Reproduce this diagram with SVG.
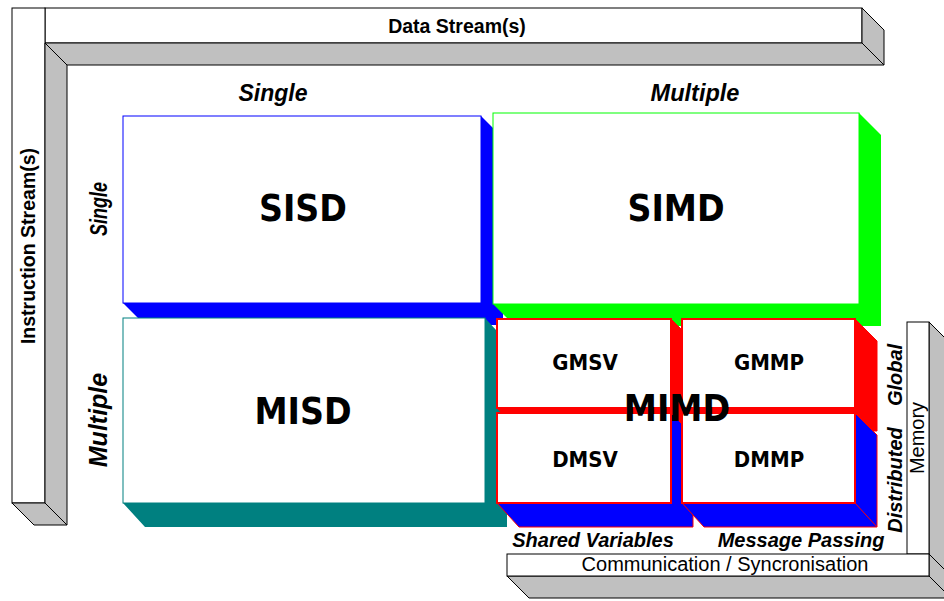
<svg xmlns="http://www.w3.org/2000/svg" width="944" height="601" viewBox="0 0 944 601">
<style>
.bar{fill:#fff;stroke:#000;stroke-width:1}
.barside{fill:#c0c0c0;stroke:#000;stroke-width:1;stroke-linejoin:miter}
.ax{font-family:"Liberation Sans",Arial,sans-serif;font-weight:bold;font-size:19.5px;fill:#000;text-anchor:middle}
.lab{font-family:"Liberation Sans",Arial,sans-serif;font-weight:bold;font-style:italic;font-size:20px;fill:#000;text-anchor:middle}
.reg{font-family:"Liberation Sans",Arial,sans-serif;font-size:20px;fill:#000;text-anchor:middle}
.big{font-family:"DejaVu Sans Condensed","DejaVu Sans",sans-serif;font-weight:bold;font-size:37px;fill:#000;text-anchor:middle}
.mid{font-family:"DejaVu Sans Condensed","DejaVu Sans",sans-serif;font-weight:bold;font-size:22px;fill:#000;text-anchor:middle}
.front{fill:#fff}
</style>
<rect width="944" height="601" fill="#fff"/>

<g id="data-stream">
  <rect class="bar" x="45" y="8" width="817" height="35"/>
  <polygon class="barside" points="45,43 862,43 884,65 67,65"/>
  <polygon class="barside" points="862,8 884,30 884,65 862,43"/>
  <text class="ax" x="457" y="33">Data Stream(s)</text>
</g>

<g id="instruction-stream">
  <rect class="bar" x="12" y="8" width="33" height="495"/>
  <polygon class="barside" points="45,43 67,65 67,525 45,503"/>
  <polygon class="barside" points="12,503 45,503 67,525 34,525"/>
  <text class="ax" transform="translate(35,246) rotate(-90)">Instruction Stream(s)</text>
</g>

<g id="axis-labels">
  <text class="lab" x="273" y="101" style="font-size:23px">Single</text>
  <text class="lab" x="695" y="101" style="font-size:23.5px">Multiple</text>
  <text class="lab" transform="translate(107,209) rotate(-90)" style="font-size:24px" textLength="54" lengthAdjust="spacingAndGlyphs">Single</text>
  <text class="lab" transform="translate(107,420) rotate(-90)" style="font-size:25px">Multiple</text>
</g>

<g id="sisd">
  <polygon fill="#0000ff" points="481,116 503,138 503,325 145,325 123,303 481,303"/>
  <rect class="front" x="123" y="116" width="358" height="187" stroke="#0000ff" stroke-width="1"/>
  <text class="big" x="303" y="221">SISD</text>
</g>

<g id="simd">
  <polygon fill="#00ff00" points="859,113 881,135 881,326 515,326 493,304 859,304"/>
  <rect class="front" x="493" y="113" width="366" height="191" stroke="#00ff00" stroke-width="1"/>
  <text class="big" x="676" y="221">SIMD</text>
</g>

<g id="misd">
  <polygon fill="#008080" points="485,318 507,342 507,527 145,527 123,503 485,503"/>
  <rect class="front" x="123" y="318" width="362" height="185" stroke="#008080" stroke-width="1"/>
  <text class="big" x="303" y="424">MISD</text>
</g>

<g id="mimd">
  <g id="gmsv">
    <polygon fill="#ff0000" stroke="#ff0000" stroke-width="1" points="671,319 693,341 693,431 519,431 497,408 671,408"/>
    <rect class="front" x="497" y="319" width="174" height="89" stroke="#ff0000" stroke-width="2"/>
  </g>
  <g id="gmmp">
    <polygon fill="#ff0000" stroke="#ff0000" stroke-width="1" points="855,319 877,341 877,431 704,431 682,408 855,408"/>
    <rect class="front" x="682" y="319" width="173" height="89" stroke="#ff0000" stroke-width="2"/>
  </g>
  <g id="dmsv">
    <polygon fill="#0000ff" stroke="#ff0000" stroke-width="1" points="671,413 693,435 693,527 519,527 497,503 671,503"/>
    <rect class="front" x="497" y="413" width="174" height="90" stroke="#ff0000" stroke-width="2"/>
  </g>
  <g id="dmmp">
    <polygon fill="#0000ff" stroke="#ff0000" stroke-width="1" points="855,413 877,435 877,527 704,527 682,503 855,503"/>
    <line x1="855" y1="503" x2="877" y2="527" stroke="#ff0000" stroke-width="1"/>
    <rect class="front" x="682" y="413" width="173" height="90" stroke="#ff0000" stroke-width="2"/>
  </g>
  <text class="mid" x="585" y="370">GMSV</text>
  <text class="mid" x="769" y="370">GMMP</text>
  <text class="mid" x="585" y="467">DMSV</text>
  <text class="mid" x="769" y="467">DMMP</text>
  <text class="big" x="677" y="421">MIMD</text>
</g>

<g id="memory">
  <polygon class="barside" points="929,322 951,344 951,576 929,554"/>
  <rect class="bar" x="907" y="322" width="22" height="232"/>
  <text class="reg" transform="translate(924,438) rotate(-90)">Memory</text>
  <text class="lab" transform="translate(902,375) rotate(-90)">Global</text>
  <text class="lab" transform="translate(902,480) rotate(-90)">Distributed</text>
</g>

<g id="communication">
  <polygon class="barside" points="507,576 929,576 951,598 529,598"/>
  <polygon class="barside" points="929,554 951,576 951,598 929,576"/>
  <rect class="bar" x="507" y="554" width="422" height="22"/>
  <text class="reg" x="725" y="571">Communication / Syncronisation</text>
  <text class="lab" x="593" y="547">Shared Variables</text>
  <text class="lab" x="801" y="547">Message Passing</text>
</g>

<g id="connectors"></g>
</svg>
